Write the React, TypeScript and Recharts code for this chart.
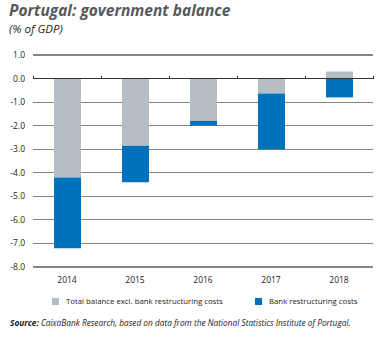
import React from 'react';
import { BarChart, Bar, XAxis, YAxis, CartesianGrid, ReferenceLine } from 'recharts';

const years = ['2014', '2015', '2016', '2017', '2018'];
const balanceExclBank = [-4.2, -2.85, -1.8, -0.63, 0.3];
const bankCosts = [-3.0, -1.55, -0.2, -2.37, -0.8];
const yTicks = [1, 0, -1, -2, -3, -4, -5, -6, -7, -8];
const seriesNames = ['Total balance excl. bank restructuring costs', 'Bank restructuring costs'];

const GREY = '#b4bec3';
const BLUE = '#0071bb';
const GRID = '#858585';
const FONT = '"Open Sans", "Noto Sans", sans-serif';

const data = years.map((year, i) => ({ year, balance: balanceExclBank[i], bank: bankCosts[i] }));

// zero line with small upward ticks between the categories
const ZeroLine = (props: any) => {
  const { x1, x2, y1 } = props;
  const step = (x2 - x1) / years.length;
  return (
    <g shapeRendering="crispEdges">
      <line x1={x1} x2={x2} y1={y1} y2={y1} stroke="#333" strokeWidth={1.2} />
      {Array.from({ length: years.length + 1 }, (_, i) => (
        <line key={i} x1={x1 + i * step} x2={x1 + i * step} y1={y1} y2={y1 - 3} stroke="#333" strokeWidth={1} />
      ))}
    </g>
  );
};

const legendItems = [
  { name: seriesNames[0], color: GREY, left: 52 },
  { name: seriesNames[1], color: BLUE, left: 255 },
];

const App: React.FC = () => {
  return (
    <div style={{ position: 'absolute', top: 0, left: 0, width: 390, height: 338, background: '#fff', fontFamily: FONT }}>
      <BarChart
        width={390}
        height={338}
        data={data}
        stackOffset="sign"
        margin={{ top: 55, right: 17, bottom: 41, left: 0 }}
      >
        <CartesianGrid vertical={false} stroke={GRID} strokeWidth={1.2} shapeRendering="crispEdges" />
        <XAxis
          dataKey="year"
          height={30}
          axisLine={false}
          tickLine={false}
          tickMargin={4}
          tick={{ fontSize: 8.5, fill: '#222', fontFamily: FONT }}
        />
        <YAxis
          width={33}
          domain={[-8, 1]}
          ticks={yTicks}
          interval={0}
          axisLine={false}
          tickLine={false}
          tickFormatter={(v: number) => v.toFixed(1)}
          tick={{ fontSize: 8.5, fill: '#222', fontFamily: FONT }}
        />
        <Bar dataKey="balance" name={seriesNames[0]} stackId="a" fill={GREY} barSize={27} isAnimationActive={false} />
        <Bar dataKey="bank" name={seriesNames[1]} stackId="a" fill={BLUE} barSize={27} isAnimationActive={false} />
        <ReferenceLine y={0} shape={ZeroLine} />
      </BarChart>

      <div style={{ position: 'absolute', left: 9, top: 2, fontSize: 15.5, lineHeight: '16px', fontWeight: 'bold', fontStyle: 'italic', color: '#58595b', whiteSpace: 'nowrap' }}>
        Portugal: government balance
      </div>
      <div style={{ position: 'absolute', left: 9, top: 23, fontSize: 11.5, lineHeight: '12px', fontStyle: 'italic', color: '#222', whiteSpace: 'nowrap' }}>
        (% of GDP)
      </div>

      {legendItems.map((it) => (
        <div key={it.name} style={{ position: 'absolute', left: it.left, top: 296, display: 'flex', alignItems: 'center', fontSize: 7.8, color: '#222', whiteSpace: 'nowrap' }}>
          <span style={{ width: 7, height: 7, background: it.color, display: 'inline-block', marginRight: 7 }} />
          <span>{it.name}</span>
        </div>
      ))}

      <div style={{ position: 'absolute', left: 10, top: 317, fontSize: 8.3, fontStyle: 'italic', color: '#222', whiteSpace: 'nowrap' }}>
        <span style={{ fontWeight: 'bold' }}>Source:</span> CaixaBank Research, based on data from the National Statistics Institute of Portugal.
      </div>
    </div>
  );
};

export default App;
